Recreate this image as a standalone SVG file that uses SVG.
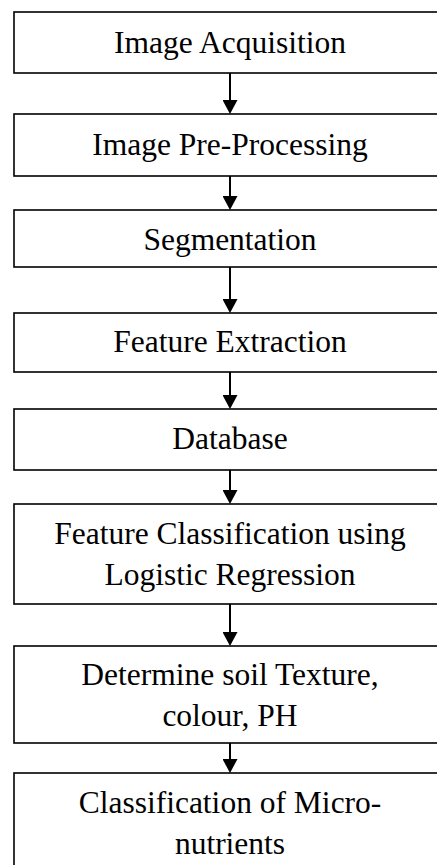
<svg xmlns="http://www.w3.org/2000/svg" width="437" height="865" viewBox="0 0 437 865">
  <style>
    .box { fill: #ffffff; stroke: #000000; stroke-width: 1.6; }
    .lbl { font-family: "Liberation Serif", "Times New Roman", serif; font-size: 31.5px; fill: #000000; text-anchor: middle; }
    .link { stroke: #000000; stroke-width: 2; fill: none; marker-end: url(#head); }
  </style>
  <defs>
    <marker id="head" markerUnits="userSpaceOnUse" markerWidth="14" markerHeight="15" viewBox="0 0 14 15" refX="4" refY="7.5" orient="auto">
      <path d="M0,0 L14,7.5 L0,15 Z" fill="#000000"/>
    </marker>
  </defs>
  <rect width="437" height="865" fill="#ffffff"/>

  <g id="acquisition">
    <rect class="box" x="14" y="12" width="440" height="61"/>
    <text class="lbl" x="230" y="53">Image Acquisition</text>
  </g>
  <g id="preprocessing">
    <rect class="box" x="14" y="114" width="440" height="62"/>
    <text class="lbl" x="230" y="155">Image Pre-Processing</text>
  </g>
  <g id="segmentation">
    <rect class="box" x="14" y="210" width="440" height="57"/>
    <text class="lbl" x="230" y="250">Segmentation</text>
  </g>
  <g id="feature-extraction">
    <rect class="box" x="14" y="313" width="440" height="59"/>
    <text class="lbl" x="230" y="352">Feature Extraction</text>
  </g>
  <g id="database">
    <rect class="box" x="14" y="409" width="440" height="61"/>
    <text class="lbl" x="230" y="449">Database</text>
  </g>
  <g id="classification">
    <rect class="box" x="14" y="504" width="440" height="100"/>
    <text class="lbl" x="230" y="544">Feature Classification using</text>
    <text class="lbl" x="230" y="585">Logistic Regression</text>
  </g>
  <g id="soil-properties">
    <rect class="box" x="14" y="646" width="440" height="97"/>
    <text class="lbl" x="230" y="685">Determine soil Texture,</text>
    <text class="lbl" x="230" y="726">colour, PH</text>
  </g>
  <g id="micronutrients">
    <rect class="box" x="14" y="773" width="440" height="110"/>
    <text class="lbl" x="230" y="813">Classification of Micro-</text>
    <text class="lbl" x="230" y="854">nutrients</text>
  </g>

  <g id="connectors">
    <line class="link" x1="230" y1="73" x2="230" y2="104"/>
    <line class="link" x1="230" y1="176" x2="230" y2="200"/>
    <line class="link" x1="230" y1="267" x2="230" y2="303"/>
    <line class="link" x1="230" y1="372" x2="230" y2="399"/>
    <line class="link" x1="230" y1="470" x2="230" y2="494"/>
    <line class="link" x1="230" y1="604" x2="230" y2="636"/>
    <line class="link" x1="230" y1="743" x2="230" y2="763"/>
  </g>
</svg>
